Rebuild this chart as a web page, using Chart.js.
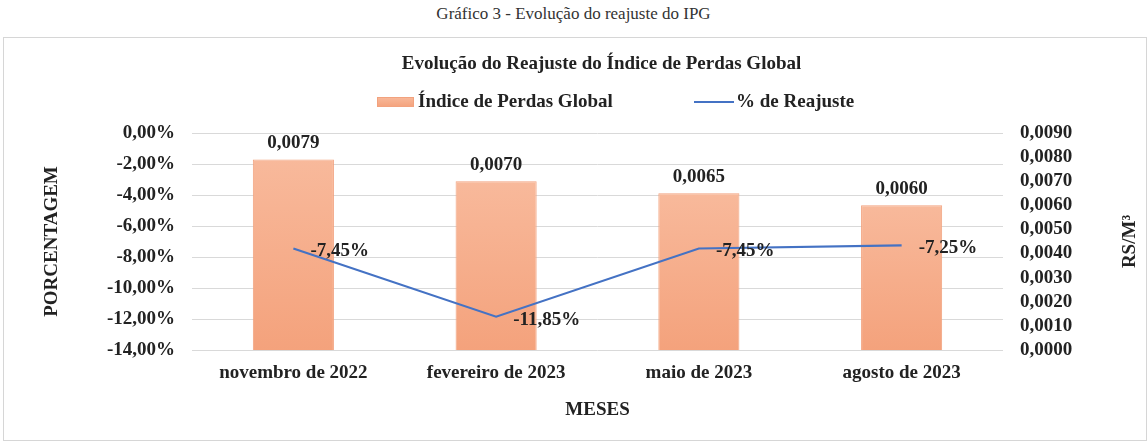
<!DOCTYPE html>
<html lang="pt-BR">
<head>
<meta charset="UTF-8">
<title>Gráfico 3 - Evolução do reajuste do IPG</title>
<script src="https://cdn.jsdelivr.net/npm/chart.js@4"></script>
<style>
  body { margin: 0; background: #fff; width: 1147px; height: 443px; overflow: hidden; font-family: "Liberation Serif", serif; }
  .caption { position: absolute; left: 0; top: 4px; width: 1147px; text-align: center; font-size: 17px; color: #333; }
  .box { position: absolute; left: 3px; top: 37px; width: 1142px; height: 402px; border: 1px solid #d6d6d6; }
</style>
</head>
<body>
<div class="caption">Gráfico 3 - Evolução do reajuste do IPG</div>
<div class="box"><canvas id="chart"></canvas></div>

<script>
  // dados
  const meses = ['novembro de 2022', 'fevereiro de 2023', 'maio de 2023', 'agosto de 2023'];
  const indice = [0.0079, 0.0070, 0.0065, 0.0060];     // R$/m³ (eixo direito)
  const reajuste = [-7.45, -11.85, -7.45, -7.25];      // % (eixo esquerdo)
  const pctTicks = { min: -14, max: 0, step: 2 };
  const valTicks = { min: 0, max: 0.009, step: 0.001 };

  const serif = '"Liberation Serif", "Times New Roman", serif';
  const ink = '#222';
  const blue = '#4472c4';

  const fmtPct = v => v.toFixed(2).replace('.', ',') + '%';
  const fmt4 = v => v.toFixed(4).replace('.', ',');

  function barGradient(c, top, bot) {
    const g = c.createLinearGradient(0, top, 0, bot);
    g.addColorStop(0, '#f8b99b');
    g.addColorStop(1, '#f4a27c');
    return g;
  }

  function barFill(context) {
    const chart = context.chart;
    const s = chart.scales.y2;
    if (!s || !chart.chartArea || context.dataIndex === undefined) return '#f5ae8c';
    const top = s.getPixelForValue(indice[context.dataIndex]);
    const bot = s.getPixelForValue(0);
    return barGradient(chart.ctx, top, bot);
  }

  const extras = {
    id: 'extras',
    afterDatasetsDraw(chart) {
      const c = chart.ctx;
      c.save();
      c.font = 'bold 19px ' + serif;
      c.fillStyle = ink;
      c.textBaseline = 'middle';
      c.textAlign = 'center';
      chart.getDatasetMeta(0).data.forEach((bar, i) => {
        c.fillText(fmt4(indice[i]), bar.x, bar.y - 16);
      });
      c.textAlign = 'left';
      chart.getDatasetMeta(1).data.forEach((pt, i) => {
        c.fillText(fmtPct(reajuste[i]), pt.x + 17, pt.y + 3);
      });
      c.restore();
    },
    afterDraw(chart) {
      const c = chart.ctx;
      const area = chart.chartArea;
      c.save();
      c.fillStyle = ink;
      c.textAlign = 'center';
      c.textBaseline = 'middle';
      // título do gráfico, centrado sobre a área de plotagem
      c.font = 'bold 19px ' + serif;
      c.fillText('Evolução do Reajuste do Índice de Perdas Global', (area.left + area.right) / 2 + 4, 26);
      // título do eixo direito (lido de baixo para cima)
      c.translate(1126, (area.top + area.bottom) / 2);
      c.rotate(-Math.PI / 2);
      c.fillText('RS/M³', 0, 0);
      c.restore();

      // legenda
      c.save();
      const ly = 64;
      c.fillStyle = barGradient(c, ly - 5, ly + 5);
      c.fillRect(373, ly - 5, 37, 10);
      c.strokeStyle = '#f2a27e';
      c.lineWidth = 1;
      c.strokeRect(373.5, ly - 4.5, 36, 9);
      c.strokeStyle = blue;
      c.lineWidth = 2.2;
      c.beginPath();
      c.moveTo(690, ly);
      c.lineTo(730, ly);
      c.stroke();
      c.font = 'bold 19px ' + serif;
      c.fillStyle = ink;
      c.textAlign = 'left';
      c.textBaseline = 'middle';
      c.fillText('Índice de Perdas Global', 414, ly);
      c.fillText('% de Reajuste', 732, ly);
      c.restore();
    }
  };

  new Chart(document.getElementById('chart'), {
    data: {
      labels: meses,
      datasets: [
        {
          type: 'bar',
          label: 'Índice de Perdas Global',
          data: indice,
          yAxisID: 'y2',
          backgroundColor: barFill,
          borderColor: '#f2a27e',
          borderWidth: 1,
          barPercentage: 0.4,
          categoryPercentage: 1,
          order: 2
        },
        {
          type: 'line',
          label: '% de Reajuste',
          data: reajuste,
          yAxisID: 'y',
          borderColor: blue,
          borderWidth: 2.2,
          pointRadius: 0,
          tension: 0,
          fill: false,
          order: 1
        }
      ]
    },
    plugins: [extras],
    options: {
      responsive: true,
      maintainAspectRatio: false,
      animation: false,
      layout: { padding: { top: 95, left: 0, right: 0, bottom: 0 } },
      plugins: {
        legend: { display: false },
        tooltip: { enabled: false },
        title: { display: false }
      },
      scales: {
        x: {
          grid: { display: false, drawTicks: false },
          border: { display: false },
          ticks: { color: ink, font: { family: serif, size: 19, weight: 'bold' }, padding: 12, maxRotation: 0 },
          title: {
            display: true, text: 'MESES', color: ink,
            font: { family: serif, size: 19, weight: 'bold' },
            padding: { top: 0, bottom: 18.6 }
          },
          afterFit(scale) { scale.height = 90; }
        },
        y: {
          position: 'left',
          min: pctTicks.min, max: pctTicks.max,
          grid: { color: '#d9d9d9', drawTicks: false },
          border: { display: false },
          ticks: {
            stepSize: pctTicks.step, color: ink, padding: 17,
            font: { family: serif, size: 19, weight: 'bold' },
            callback: v => fmtPct(v)
          },
          title: {
            display: true, text: 'PORCENTAGEM', color: ink,
            font: { family: serif, size: 19, weight: 'bold' },
            padding: { top: 36.6, bottom: 0 }
          },
          afterFit(scale) { scale.width = 188; }
        },
        y2: {
          position: 'right',
          min: valTicks.min, max: valTicks.max,
          grid: { display: false, drawTicks: false },
          border: { display: false },
          ticks: {
            stepSize: valTicks.step, autoSkip: false, color: ink, padding: 17,
            font: { family: serif, size: 19, weight: 'bold' },
            callback: v => fmt4(v)
          },
          afterFit(scale) { scale.width = 143; }
        }
      }
    }
  });
</script>
</body>
</html>
